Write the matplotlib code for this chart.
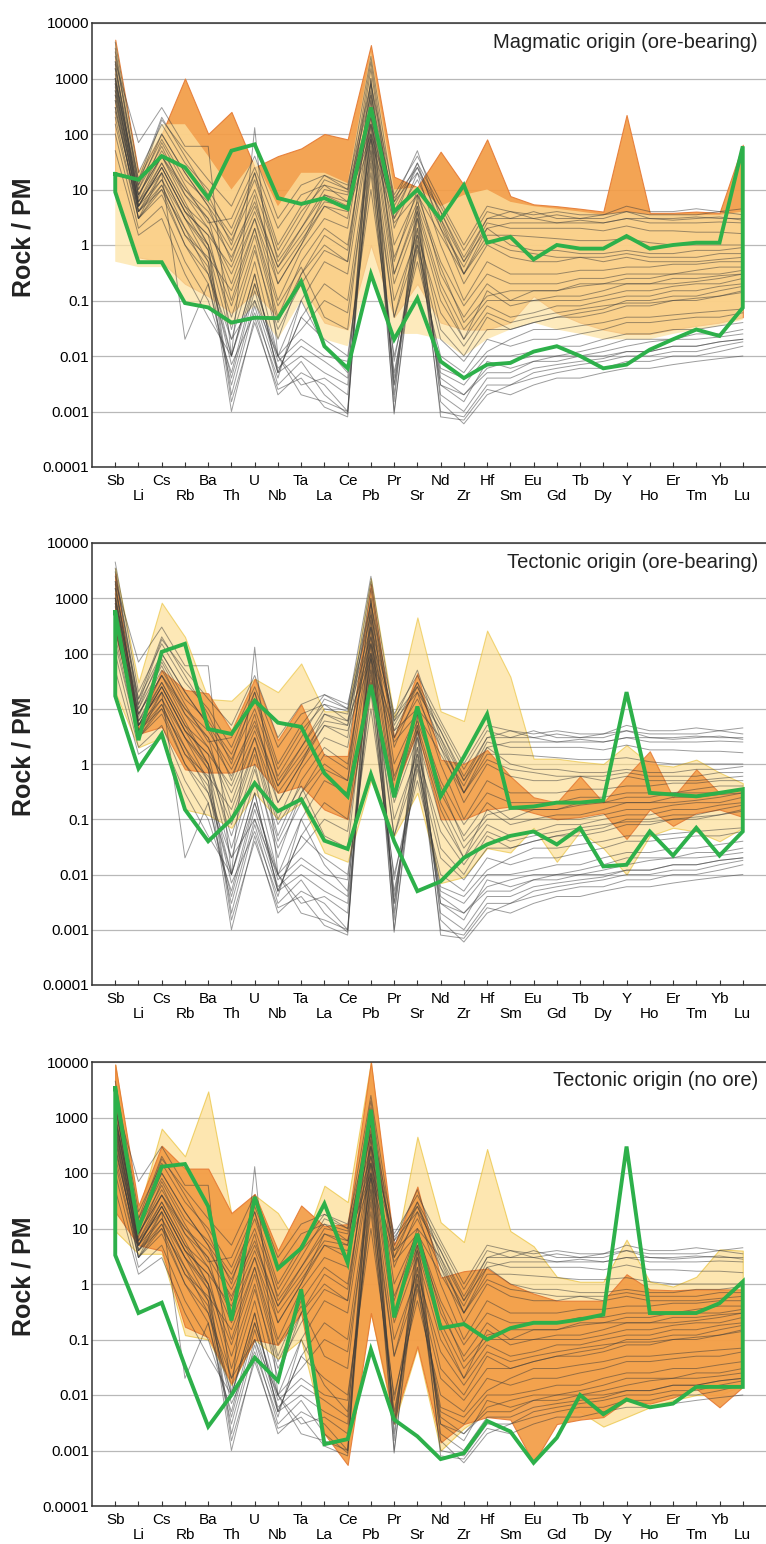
import numpy as np
import matplotlib
matplotlib.use("Agg")
import matplotlib.pyplot as plt

plt.rcParams['font.family'] = ['Liberation Sans', 'DejaVu Sans']

elements = ["Sb", "Li", "Cs", "Rb", "Ba", "Th", "U", "Nb", "Ta", "La", "Ce", "Pb", "Pr", "Sr",
            "Nd", "Zr", "Hf", "Sm", "Eu", "Gd", "Tb", "Dy", "Y", "Ho", "Er", "Tm", "Yb", "Lu"]
ytick_vals = [1e-4, 1e-3, 1e-2, 1e-1, 1, 10, 100, 1000, 10000]
ytick_labels = ["0.0001", "0.001", "0.01", "0.1", "1", "10", "100", "1000", "10000"]
titles = ["Magmatic origin (ore-bearing)", "Tectonic origin (ore-bearing)", "Tectonic origin (no ore)"]

# ---- individual samples (gray lines, same in all panels) ----
gray_high_ree = [
    [900, 10, 60, 8, 3, 0.6, 5, 0.4, 2, 10, 8, 200, 6, 20, 4, 0.5, 3, 4, 3, 3.5, 3, 3, 4, 3, 3, 3.2, 3, 3],
    [1500, 15, 100, 20, 5, 1.2, 10, 0.6, 3, 15, 10, 500, 5, 30, 5, 0.8, 4, 3, 4, 3, 3, 3.5, 5, 4, 4, 4.5, 4, 4.5],
    [400, 6, 30, 5, 2, 0.3, 3, 0.2, 1, 8, 6, 100, 4, 10, 3, 0.3, 2, 2.5, 2.5, 2.5, 2.8, 2.5, 3, 3, 2.8, 3, 3.2, 2.8],
    [4500, 20, 150, 30, 10, 2, 20, 1, 5, 18, 12, 800, 8, 40, 6, 1, 5, 4, 3.5, 4, 3.5, 3.5, 4, 3.5, 3.5, 3.5, 4, 3.5],
    [600, 8, 40, 10, 4, 0.8, 6, 0.4, 1.5, 6, 5, 150, 3, 15, 2, 0.4, 2.5, 2, 2, 2, 2, 1.8, 2.2, 1.8, 1.8, 1.7, 1.7, 1.6],
    [1000, 12, 80, 15, 6, 1.5, 15, 0.8, 4, 12, 9, 300, 7, 25, 4, 0.6, 3, 3, 3, 2.5, 2.5, 2.5, 3, 2.5, 2.5, 2.5, 2.6, 2.5],
    [250, 5, 25, 4, 1.5, 0.4, 4, 0.3, 1.2, 5, 4, 80, 2.5, 8, 1.5, 0.3, 1.5, 1.5, 1.4, 1.3, 1.2, 1.2, 1.3, 1.1, 1, 1, 1, 1],
]
gray_mid_ree = [
    [1000, 8, 50, 10, 3, 0.1, 2, 0.05, 0.5, 2, 1, 300, 0.5, 10, 0.3, 0.05, 0.2, 0.1, 0.15, 0.15, 0.2, 0.2, 0.25, 0.25, 0.3, 0.3, 0.3, 0.35],
    [2000, 5, 30, 5, 1, 0.05, 1, 0.02, 0.3, 1, 0.5, 1000, 0.3, 5, 0.2, 0.03, 0.1, 0.1, 0.1, 0.12, 0.12, 0.15, 0.2, 0.2, 0.2, 0.22, 0.25, 0.3],
    [500, 3, 20, 3, 0.8, 0.02, 0.5, 0.01, 0.1, 0.5, 0.3, 150, 0.2, 3, 0.1, 0.02, 0.08, 0.05, 0.06, 0.08, 0.08, 0.1, 0.12, 0.12, 0.15, 0.15, 0.18, 0.2],
    [3000, 10, 100, 20, 5, 0.5, 8, 0.2, 1, 5, 3, 1500, 2, 20, 1, 0.1, 0.5, 0.3, 0.3, 0.3, 0.35, 0.35, 0.4, 0.4, 0.45, 0.45, 0.5, 0.5],
    [300, 4, 15, 2, 0.5, 0.01, 0.3, 0.005, 0.05, 0.2, 0.1, 80, 0.05, 2, 0.03, 0.01, 0.05, 0.03, 0.04, 0.05, 0.05, 0.06, 0.08, 0.08, 0.1, 0.1, 0.12, 0.15],
    [1200, 6, 40, 8, 2, 0.2, 3, 0.1, 0.8, 3, 2, 600, 1, 8, 0.5, 0.08, 0.3, 0.2, 0.2, 0.2, 0.25, 0.25, 0.3, 0.3, 0.3, 0.35, 0.4, 0.4],
    [700, 5, 25, 4, 1.5, 0.03, 0.8, 0.03, 0.2, 0.8, 0.5, 200, 0.3, 4, 0.15, 0.02, 0.15, 0.08, 0.1, 0.1, 0.1, 0.12, 0.15, 0.15, 0.18, 0.2, 0.2, 0.25],
    [150, 3, 10, 1, 0.3, 0.01, 0.2, 0.01, 0.03, 0.1, 0.06, 50, 0.05, 1, 0.02, 0.008, 0.03, 0.03, 0.04, 0.05, 0.06, 0.07, 0.1, 0.1, 0.12, 0.12, 0.15, 0.18],
    [2500, 15, 200, 40, 8, 1, 20, 0.5, 2, 8, 5, 2000, 3, 30, 2, 0.2, 1, 0.6, 0.5, 0.5, 0.6, 0.6, 0.7, 0.6, 0.6, 0.6, 0.7, 0.7],
    [800, 4, 20, 3, 1, 0.08, 1.5, 0.04, 0.3, 1.5, 0.8, 400, 0.6, 6, 0.4, 0.04, 0.12, 0.15, 0.15, 0.15, 0.18, 0.2, 0.2, 0.2, 0.25, 0.25, 0.28, 0.3],
    [1800, 7, 70, 12, 2.5, 3, 25, 2, 8, 12, 6, 800, 4, 25, 2.5, 0.3, 1.2, 0.8, 0.7, 0.6, 0.6, 0.5, 0.6, 0.5, 0.5, 0.5, 0.55, 0.6],
    [600, 4, 12, 1.5, 0.6, 0.15, 2, 0.08, 0.4, 0.05, 0.03, 100, 0.1, 1.5, 0.06, 0.015, 0.06, 0.04, 0.05, 0.06, 0.07, 0.08, 0.09, 0.09, 0.1, 0.11, 0.12, 0.14],
    [3500, 12, 180, 50, 15, 5, 40, 3, 12, 18, 10, 2500, 6, 50, 3, 0.5, 2, 1, 0.8, 0.8, 0.7, 0.7, 0.8, 0.7, 0.7, 0.8, 0.8, 0.9],
]
gray_low_ree = [
    [200, 3, 8, 1, 0.2, 0.003, 0.1, 0.005, 0.01, 0.005, 0.003, 30, 0.003, 1, 0.003, 0.002, 0.005, 0.005, 0.008, 0.008, 0.01, 0.01, 0.012, 0.012, 0.015, 0.015, 0.018, 0.02],
    [500, 5, 15, 3, 0.5, 0.001, 0.05, 0.002, 0.005, 0.003, 0.001, 100, 0.001, 2, 0.001, 0.0008, 0.003, 0.003, 0.005, 0.006, 0.007, 0.008, 0.01, 0.01, 0.012, 0.012, 0.015, 0.018],
    [100, 2, 5, 0.5, 0.1, 0.005, 0.2, 0.008, 0.02, 0.01, 0.008, 20, 0.005, 0.8, 0.005, 0.003, 0.01, 0.01, 0.012, 0.015, 0.015, 0.02, 0.025, 0.025, 0.03, 0.03, 0.035, 0.04],
    [1500, 8, 40, 6, 1, 0.002, 0.08, 0.003, 0.008, 0.002, 0.0009, 500, 0.002, 5, 0.002, 0.001, 0.004, 0.004, 0.006, 0.007, 0.008, 0.009, 0.012, 0.012, 0.015, 0.015, 0.018, 0.02],
    [50, 1.5, 3, 0.3, 0.05, 0.01, 0.3, 0.005, 0.05, 0.02, 0.01, 10, 0.01, 0.5, 0.01, 0.005, 0.02, 0.015, 0.02, 0.02, 0.025, 0.03, 0.04, 0.04, 0.045, 0.05, 0.05, 0.06],
    [300, 4, 10, 2, 0.3, 0.02, 0.1, 0.01, 0.003, 0.004, 0.002, 60, 0.004, 1.5, 0.004, 0.002, 0.006, 0.008, 0.01, 0.01, 0.012, 0.015, 0.02, 0.02, 0.02, 0.025, 0.025, 0.03],
    [800, 6, 20, 0.02, 0.2, 0.004, 0.15, 0.006, 0.015, 0.008, 0.004, 150, 0.003, 3, 0.003, 0.0015, 0.008, 0.006, 0.008, 0.01, 0.01, 0.012, 0.015, 0.018, 0.02, 0.02, 0.022, 0.025],
    [2000, 70, 300, 60, 60, 0.01, 130, 0.01, 0.002, 0.0015, 0.001, 1000, 0.0015, 8, 0.0015, 0.0006, 0.002, 0.003, 0.004, 0.005, 0.006, 0.006, 0.008, 0.008, 0.01, 0.01, 0.012, 0.015],
    [400, 3, 12, 1.5, 0.4, 0.007, 0.06, 0.004, 0.1, 0.015, 0.005, 40, 0.008, 1.2, 0.006, 0.004, 0.012, 0.02, 0.03, 0.03, 0.035, 0.04, 0.05, 0.05, 0.055, 0.06, 0.065, 0.07],
    [1000, 5, 25, 4, 0.8, 0.0015, 0.04, 0.0025, 0.004, 0.0012, 0.0008, 300, 0.0009, 4, 0.0008, 0.0007, 0.0025, 0.002, 0.003, 0.004, 0.004, 0.005, 0.006, 0.006, 0.007, 0.008, 0.009, 0.01],
]

# ---- Panel 1: Magmatic origin (ore-bearing) ----
p1_orange_hi = [5000, 20, 100, 1000, 100, 250, 25, 40, 55, 100, 80, 4000, 17, 11, 48, 12, 80, 7.6, 5.4, 5, 4.5, 4, 220, 3.8, 3.8, 4, 3.8, 64]
p1_orange_lo = [10, 0.6, 0.5, 0.2, 0.12, 0.06, 0.14, 0.05, 0.2, 0.04, 0.03, 1, 0.05, 0.2, 0.04, 0.03, 0.03, 0.04, 0.12, 0.06, 0.04, 0.03, 0.025, 0.025, 0.03, 0.035, 0.04, 0.05]
p1_yellow_hi = [5000, 20, 150, 150, 40, 10, 35, 5, 20, 20, 13, 3000, 10, 11, 5, 8, 10, 6, 5, 4.5, 4, 3.5, 4, 3.5, 3.5, 3.5, 3.5, 4]
p1_yellow_lo = [0.5, 0.4, 0.4, 0.09, 0.07, 0.035, 0.08, 0.02, 0.1, 0.02, 0.015, 0.3, 0.025, 0.025, 0.02, 0.01, 0.02, 0.03, 0.04, 0.03, 0.025, 0.02, 0.02, 0.02, 0.025, 0.03, 0.035, 0.045]
p1_green_hi = [19, 15, 40, 25, 7, 50, 65, 7, 5.5, 7, 4.5, 300, 4, 10, 2.9, 12, 1.1, 1.4, 0.55, 1.0, 0.86, 0.86, 1.45, 0.86, 1.0, 1.1, 1.1, 60]
p1_green_lo = [9, 0.49, 0.49, 0.09, 0.075, 0.04, 0.049, 0.048, 0.22, 0.015, 0.006, 0.3, 0.02, 0.11, 0.008, 0.004, 0.007, 0.0075, 0.012, 0.015, 0.01, 0.006, 0.007, 0.013, 0.02, 0.03, 0.023, 0.074]

# ---- Panel 2: Tectonic origin (ore-bearing) ----
p2_yellow_hi = [3500, 30, 830, 200, 15, 14, 35, 20, 66, 9, 9, 2300, 7, 450, 9, 6, 260, 38, 1.25, 1.25, 1.1, 1.0, 2.2, 1.0, 0.9, 1.2, 0.7, 0.45]
p2_yellow_lo = [20, 2, 3, 0.15, 0.12, 0.07, 0.3, 0.1, 0.2, 0.025, 0.017, 0.5, 0.05, 0.3, 0.007, 0.009, 0.03, 0.025, 0.07, 0.017, 0.06, 0.03, 0.01, 0.05, 0.07, 0.06, 0.04, 0.07]
p2_orange_hi = [2800, 4.5, 50, 22, 19, 4, 35, 2.7, 12, 1.4, 1.4, 1800, 3, 44, 1.2, 1.0, 1.8, 0.6, 0.25, 0.2, 0.6, 0.2, 0.6, 1.7, 0.25, 0.8, 0.3, 0.35]
p2_orange_lo = [250, 3.5, 4.7, 0.8, 0.7, 0.7, 1.0, 0.3, 0.4, 0.15, 0.1, 30, 0.3, 4, 0.1, 0.1, 0.15, 0.17, 0.13, 0.1, 0.11, 0.13, 0.044, 0.15, 0.076, 0.13, 0.15, 0.11]
p2_green_hi = [560, 2.7, 107, 150, 4.3, 3.5, 14, 5.6, 4.7, 0.68, 0.26, 27, 0.25, 11, 0.26, 1.35, 8, 0.16, 0.17, 0.2, 0.2, 0.22, 20, 0.3, 0.28, 0.26, 0.3, 0.35]
p2_green_lo = [17, 0.83, 3.5, 0.15, 0.04, 0.1, 0.45, 0.14, 0.23, 0.041, 0.029, 0.65, 0.04, 0.005, 0.0075, 0.02, 0.035, 0.05, 0.06, 0.035, 0.07, 0.014, 0.015, 0.06, 0.022, 0.07, 0.022, 0.06]

# ---- Panel 3: Tectonic origin (no ore) ----
p3_yellow_hi = [9000, 20, 630, 200, 2950, 18, 40, 19, 4, 59, 30, 10000, 3, 450, 13, 5.7, 270, 9, 4.8, 1.35, 1.1, 1.1, 6.3, 1.1, 0.9, 1.35, 4.2, 4]
p3_yellow_lo = [9, 3.5, 3.5, 0.12, 0.1, 0.015, 0.1, 0.045, 0.1, 0.002, 0.001, 0.3, 0.003, 0.07, 0.001, 0.0025, 0.005, 0.005, 0.01, 0.005, 0.005, 0.0027, 0.004, 0.006, 0.008, 0.01, 0.01, 0.015]
p3_orange_hi = [9000, 26, 310, 120, 120, 19, 42, 4, 26, 11, 12, 10000, 5, 57, 1.3, 1.7, 1.9, 1.0, 0.67, 0.5, 0.5, 0.5, 1.5, 0.8, 0.77, 0.8, 0.8, 0.8]
p3_orange_lo = [20, 5, 4, 0.17, 0.11, 0.016, 0.1, 0.08, 0.3, 0.002, 0.00055, 0.3, 0.0036, 0.076, 0.0014, 0.003, 0.004, 0.0036, 0.0006, 0.003, 0.0036, 0.004, 0.008, 0.007, 0.009, 0.013, 0.006, 0.014]
p3_green_hi = [3400, 10, 130, 145, 25, 0.22, 37, 1.9, 4.4, 28, 2.4, 1380, 0.25, 8, 0.16, 0.19, 0.1, 0.16, 0.2, 0.2, 0.23, 0.28, 300, 0.3, 0.3, 0.3, 0.45, 1.1]
p3_green_lo = [3.3, 0.3, 0.46, 0.033, 0.0027, 0.01, 0.047, 0.018, 0.8, 0.0013, 0.0016, 0.066, 0.0036, 0.0018, 0.0007, 0.0009, 0.0034, 0.0022, 0.0006, 0.0017, 0.01, 0.0045, 0.0083, 0.006, 0.007, 0.014, 0.014, 0.014]

ORANGE = "#F39C45"
ORANGE_EDGE = "#E57B35"
YELLOW = "#FCDA86"
YELLOW_P1 = "#FDE3A2"
YELLOW_EDGE = "#E8BE2E"
GREEN = "#2DB04A"

W, H = 766, 1544
fig = plt.figure(figsize=(W / 100, H / 100), dpi=100)

panel_px = [(23, 467), (543, 985), (1062, 1506)]
fills = [
    [(p1_orange_lo, p1_orange_hi, ORANGE, ORANGE_EDGE, 0.92), (p1_yellow_lo, p1_yellow_hi, YELLOW_P1, "none", 0.72)],
    [(p2_yellow_lo, p2_yellow_hi, YELLOW, YELLOW_EDGE, 0.6), (p2_orange_lo, p2_orange_hi, ORANGE, ORANGE_EDGE, 0.85)],
    [(p3_yellow_lo, p3_yellow_hi, YELLOW, YELLOW_EDGE, 0.65), (p3_orange_lo, p3_orange_hi, ORANGE, ORANGE_EDGE, 0.92)],
]
greens = [(p1_green_hi, p1_green_lo), (p2_green_hi, p2_green_lo), (p3_green_hi, p3_green_lo)]

x = np.arange(len(elements))
even = x[::2]
odd = x[1::2]

for k, (top, bot) in enumerate(panel_px):
    ax = fig.add_axes([92 / W, 1 - bot / H, 674 / W, (bot - top) / H])
    ax.set_yscale("log")
    ax.set_ylim(1e-4, 1e4)
    ax.set_xlim(-1, 28)

    for lo, hi, face, edge, a in fills[k]:
        ax.fill_between(x, lo, hi, facecolor=face, edgecolor=edge, alpha=a, lw=0.8, zorder=2)

    for grp in (gray_high_ree, gray_mid_ree, gray_low_ree):
        for row in grp:
            ax.plot(x, row, color="#3a3a3a", alpha=0.5, lw=0.7, zorder=3)

    ghi, glo = greens[k]
    gx = np.concatenate([x, x[::-1], x[:1]])
    gy = np.concatenate([ghi, glo[::-1], ghi[:1]])
    ax.plot(gx, gy, color=GREEN, lw=2.8, zorder=5, solid_joinstyle="miter")

    ax.set_yticks(ytick_vals)
    ax.set_yticklabels(ytick_labels, fontsize=11)
    ax.yaxis.set_minor_locator(matplotlib.ticker.NullLocator())
    ax.tick_params(axis="y", length=0, pad=2)
    ax.yaxis.grid(True, color="#b8b8b8", lw=0.9)
    ax.set_axisbelow(True)

    ax.set_xticks(even)
    ax.set_xticklabels([elements[i] for i in even], fontsize=11)
    ax.set_xticks(odd, minor=True)
    ax.set_xticklabels([elements[i] for i in odd], minor=True, fontsize=11)
    ax.tick_params(axis="x", which="both", direction="in", length=3.5, width=0.8, color="#333333")
    ax.tick_params(axis="x", which="major", pad=5)
    ax.tick_params(axis="x", which="minor", pad=16)

    for s in ("top", "left", "bottom"):
        ax.spines[s].set_color("#333333")
        ax.spines[s].set_linewidth(1.1)
    ax.spines["right"].set_visible(False)

    ax.text(0.988, 1 - 19 / (bot - top), titles[k], transform=ax.transAxes,
            ha="right", va="center", fontsize=14.5, color="#222222")

    fig.text(24 / W, 1 - ((top + bot) / 2 - 8) / H, "Rock / PM", rotation=90,
             ha="center", va="center", fontsize=18, fontweight="bold", color="#222222")

fig.savefig("out.png", dpi=100)
